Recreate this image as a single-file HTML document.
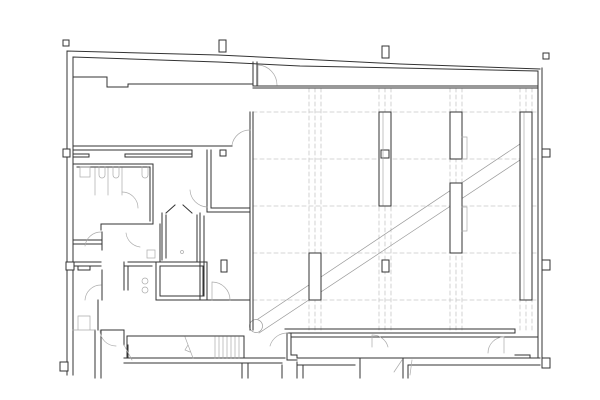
<!DOCTYPE html>
<html><head><style>
html,body{margin:0;padding:0;background:#fff;}
svg{display:block;}
</style></head><body>
<svg width="600" height="400" viewBox="0 0 600 400" xmlns="http://www.w3.org/2000/svg" fill="none" stroke-linecap="square">
<g stroke="#c8c8c8" stroke-width="0.8" stroke-dasharray="4,3">
<line x1="253" y1="112" x2="536" y2="112"/>
<line x1="253" y1="159" x2="536" y2="159"/>
<line x1="253" y1="206" x2="536" y2="206"/>
<line x1="253" y1="253" x2="536" y2="253"/>
<line x1="253" y1="300" x2="536" y2="300"/>
<line x1="309" y1="88" x2="309" y2="331"/><line x1="315" y1="88" x2="315" y2="331"/><line x1="321" y1="88" x2="321" y2="331"/>
<line x1="379" y1="88" x2="379" y2="331"/><line x1="385" y1="88" x2="385" y2="331"/><line x1="391" y1="88" x2="391" y2="331"/>
<line x1="450" y1="88" x2="450" y2="331"/><line x1="456" y1="88" x2="456" y2="331"/><line x1="462" y1="88" x2="462" y2="331"/>
<line x1="520" y1="88" x2="520" y2="331"/><line x1="526" y1="88" x2="526" y2="331"/><line x1="532" y1="88" x2="532" y2="331"/>
</g>
<g stroke="#999" stroke-width="0.7">
<line x1="258" y1="319" x2="520" y2="144"/>
<line x1="259" y1="333" x2="520" y2="160"/>
<circle cx="256" cy="326" r="6.5" fill="#fff"/>
</g>
<g stroke="#333" stroke-width="1" fill="#fff">
<rect x="379" y="112" width="12" height="94"/>
<rect x="381" y="150" width="8" height="8"/>
<rect x="450" y="112" width="12" height="47"/>
<rect x="450" y="183" width="12" height="70"/>
<rect x="520" y="112" width="12" height="188"/>
<rect x="309" y="253" width="12" height="47"/>
<rect x="382" y="260" width="7" height="12"/>
</g>
<g stroke="#aaa" stroke-width="0.7"><path d="M462 137h5v22h-5M462 207h5v24h-5"/><line x1="524" y1="113" x2="524" y2="299"/><line x1="383" y1="113" x2="383" y2="205"/></g>
<g stroke="#333" stroke-width="1">
<path d="M67 375V51L218 55L300 59L400 64L540 69"/>
<path d="M73 375V57L218 62L300 66L400 68L538 71V358"/>
<path d="M542 68V360"/>
<path d="M73 77H107V87H128V84H252"/>
<line x1="253" y1="86" x2="538" y2="86"/>
<line x1="253" y1="88" x2="538" y2="88"/>
<path d="M253 62V85M257 62V85"/>
<path d="M250 112V330M253 112V330"/>
<path d="M73 146H232M73 150H192V157M207 150V212H250M211 150V208H250"/>
<path d="M73 154H89V157H73M125 154H192V157H125Z"/>
<path d="M73 164H153V224M77 167H150V221M153 224H101V230M160 224V262"/>
<path d="M162 213V260M166 215V258M197 215V262M200 213V300M204 216V296"/>
<path d="M166 213L175 205M183 205L192 213"/>
<path d="M156 262H207V300H156ZM160 266H203V296H160Z"/>
<path d="M128 262H156V270M124 266H152"/>
<path d="M124 262V290M128 266V290"/>
<path d="M200 300H250"/>
<path d="M102 232V250M102 270V300M98 300V330M101 330V378M95 330V378"/>
<path d="M73 240H101M73 244H101M73 262H101M73 266H101"/>
<path d="M78 266H90V270H78Z"/>
<path d="M124 330H102M124 330V345M128 345V358"/>
<path d="M127 336H244V358H127Z"/>
<path d="M124 358H285M124 363H282M242 363V378M248 363V378"/>
<path d="M221 260H227V272H221Z"/>
<path d="M220 150H226V156H220Z"/>
<path d="M285 329H515V333H287V360H297M291 333V355H297V358H540"/>
<path d="M291 337H538"/>
<path d="M297 362V378M303 365V378M282 365V378M298 365H355M360 358V378M403 358V378M408 365V378M408 365H540"/>
<path d="M515 355H530V358"/>
</g>
<g stroke="#aaa" stroke-width="0.7">
<path d="M215 337V358M219 337V358M223 337V358M227 337V358M231 337V358M235 337V358M239 337V358"/>
<path d="M185 337L193 358M188 345L185 350L190 352"/>
<path d="M73 330H95M78 316H90V330H78Z"/>
<rect x="80" y="167" width="10" height="10"/>
<rect x="147" y="250" width="8" height="8"/>
<circle cx="145" cy="281" r="3"/><circle cx="145" cy="290" r="3"/>
<circle cx="182" cy="252" r="1.5"/>
<path d="M99 167v8a3 3 0 0 0 6 0v-8M113 167v8a3 3 0 0 0 6 0v-8M142 167v8a3 3 0 0 0 6 0v-8"/>
<path d="M95 168V195M108 168V195M122 168V195"/>
</g>
<g stroke="#aaa" stroke-width="0.7">
<path d="M258 85V65A20 20 0 0 1 277 85"/>
<path d="M232 145A18 18 0 0 1 250 130"/>
<path d="M190 190A18 18 0 0 0 207 207"/>
<path d="M122 192A16 16 0 0 1 138 208"/>
<path d="M85 246A16 16 0 0 1 101 232"/>
<path d="M126 233A16 16 0 0 0 140 247"/>
<path d="M212 300V282A18 18 0 0 1 230 300"/>
<path d="M85 300A16 16 0 0 1 101 285"/>
<path d="M100 330A16 16 0 0 0 116 346"/>
<path d="M124 345L132 360"/>
<path d="M270 346A18 18 0 0 1 288 333"/>
<path d="M372 347V335A16 16 0 0 1 388 347"/>
<path d="M402 360L394 372M412 360L410 375"/>
<path d="M488 353A16 16 0 0 1 504 337V353"/>
</g>
<g stroke="#333" stroke-width="1" fill="#fff">
<rect x="63" y="40" width="6" height="6"/>
<rect x="219" y="40" width="7" height="12"/>
<rect x="382" y="46" width="7" height="12"/>
<rect x="543" y="53" width="6" height="6"/>
<rect x="542" y="149" width="8" height="8"/>
<rect x="542" y="260" width="8" height="10"/>
<rect x="542" y="358" width="8" height="10"/>
<rect x="63" y="149" width="7" height="8"/>
<rect x="66" y="262" width="8" height="8"/>
<rect x="60" y="362" width="8" height="9"/>
</g>
</svg>
</body></html>
